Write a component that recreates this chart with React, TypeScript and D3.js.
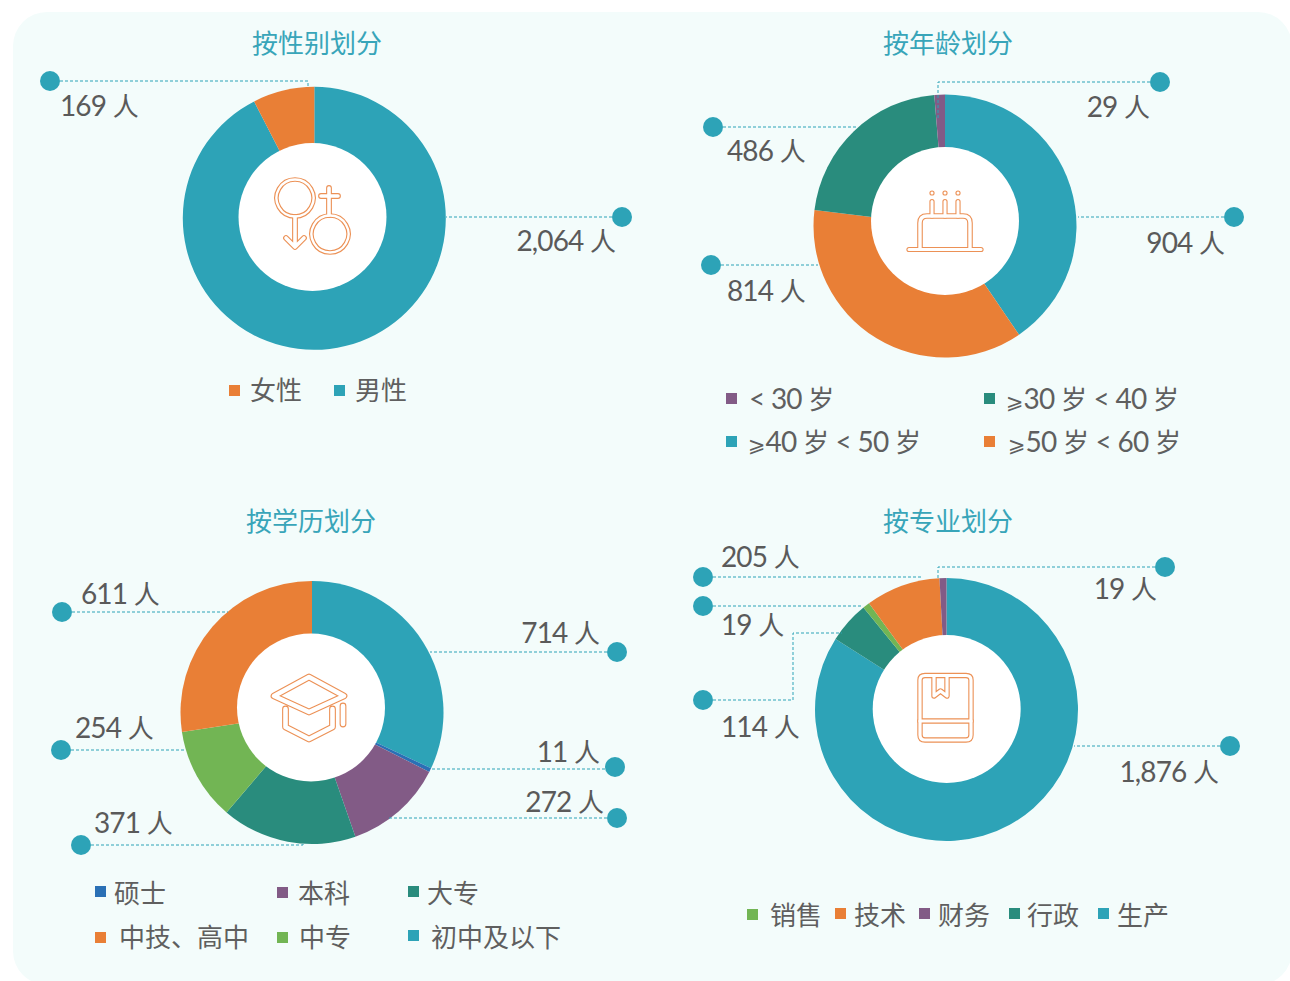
import React from "react";
import * as d3 from "d3";

const TEAL = "#2da3b7", ORANGE = "#e97f36", GREEN = "#298c7d", PURPLE = "#825b86", LIME = "#72b554", BLUE = "#2a70b5";

const genderValues = [2064, 169];
const genderColors = [TEAL, ORANGE];
const ageValues = [904, 814, 486, 29];
const ageColors = [TEAL, ORANGE, GREEN, PURPLE];
const eduValues = [714, 11, 272, 371, 254, 611];
const eduColors = [TEAL, BLUE, PURPLE, GREEN, LIME, ORANGE];
const majorValues = [1876, 114, 19, 205, 19];
const majorColors = [TEAL, GREEN, LIME, ORANGE, PURPLE];

const titles = ["按性别划分", "按年龄划分", "按学历划分", "按专业划分"];
const titlePos = [[317, 52.5], [948, 52.5], [311, 530.5], [948, 530.5]];

const donuts = [
  { values: genderValues, colors: genderColors, cx: 314.3, cy: 218.3, hx: 312.5, hy: 217 },
  { values: ageValues, colors: ageColors, cx: 945, cy: 226, hx: 945, hy: 221 },
  { values: eduValues, colors: eduColors, cx: 312, cy: 712.5, hx: 311, hy: 707.5 },
  { values: majorValues, colors: majorColors, cx: 946.5, cy: 709.5, hx: 946.7, hy: 709 },
];

const leaders = [
  { dot: [50, 81], pts: [[60, 81], [308, 81], [308, 86]], label: "169 人", lx: 60, ly: 116, anchor: "start" },
  { dot: [622, 217], pts: [[612, 217], [446, 217]], label: "2,064 人", lx: 616, ly: 251, anchor: "end" },
  { dot: [1160, 82], pts: [[1150, 82], [938, 82], [938, 120]], label: "29 人", lx: 1150, ly: 117, anchor: "end" },
  { dot: [1234, 217], pts: [[1224, 217], [1078, 217]], label: "904 人", lx: 1225, ly: 253, anchor: "end" },
  { dot: [713, 127], pts: [[723, 127], [858, 127]], label: "486 人", lx: 727, ly: 161, anchor: "start" },
  { dot: [711, 265], pts: [[721, 265], [818, 265]], label: "814 人", lx: 727, ly: 301, anchor: "start" },
  { dot: [62, 612], pts: [[72, 612], [228, 612]], label: "611 人", lx: 81, ly: 604, anchor: "start" },
  { dot: [617, 652], pts: [[607, 652], [430, 652]], label: "714 人", lx: 600, ly: 643, anchor: "end" },
  { dot: [61, 750], pts: [[71, 750], [186, 750]], label: "254 人", lx: 75, ly: 738, anchor: "start" },
  { dot: [615, 767], pts: [[605, 769], [430, 769]], label: "11 人", lx: 600, ly: 762, anchor: "end" },
  { dot: [617, 818], pts: [[607, 818], [388, 818]], label: "272 人", lx: 604, ly: 812, anchor: "end" },
  { dot: [81, 845], pts: [[91, 845], [303, 845], [303, 842]], label: "371 人", lx: 94, ly: 833, anchor: "start" },
  { dot: [703, 577], pts: [[713, 577], [922, 577]], label: "205 人", lx: 721, ly: 567, anchor: "start" },
  { dot: [1165, 567], pts: [[1155, 567], [938, 567], [938, 578]], label: "19 人", lx: 1157, ly: 599, anchor: "end" },
  { dot: [703, 606], pts: [[713, 606], [862, 606]], label: "19 人", lx: 721, ly: 635, anchor: "start" },
  { dot: [703, 700], pts: [[713, 700], [793, 700], [793, 633], [842, 633]], label: "114 人", lx: 721, ly: 737, anchor: "start" },
  { dot: [1230, 746], pts: [[1220, 746], [1074, 746]], label: "1,876 人", lx: 1219, ly: 782, anchor: "end" },
];

const legendItems = [
  { c: ORANGE, t: "女性", sx: 229, sy: 385, tx: 250, ty: 400 },
  { c: TEAL, t: "男性", sx: 334, sy: 385, tx: 355, ty: 400 },
  { c: PURPLE, t: "< 30 岁", sx: 726, sy: 393, tx: 749, ty: 409 },
  { c: GREEN, t: "⩾30 岁 < 40 岁", sx: 984, sy: 393, tx: 1006, ty: 409 },
  { c: TEAL, t: "⩾40 岁 < 50 岁", sx: 726, sy: 436, tx: 748, ty: 452 },
  { c: ORANGE, t: "⩾50 岁 < 60 岁", sx: 984, sy: 436, tx: 1008, ty: 452 },
  { c: BLUE, t: "硕士", sx: 95, sy: 886, tx: 114, ty: 903 },
  { c: PURPLE, t: "本科", sx: 277, sy: 887, tx: 298, ty: 903 },
  { c: GREEN, t: "大专", sx: 408, sy: 886, tx: 427, ty: 903 },
  { c: ORANGE, t: "中技、高中", sx: 95, sy: 932, tx: 119, ty: 947 },
  { c: LIME, t: "中专", sx: 277, sy: 932, tx: 299, ty: 947 },
  { c: TEAL, t: "初中及以下", sx: 408, sy: 930, tx: 431, ty: 947 },
  { c: LIME, t: "销售", sx: 747, sy: 909, tx: 770, ty: 925 },
  { c: ORANGE, t: "技术", sx: 835, sy: 908, tx: 854, ty: 925 },
  { c: PURPLE, t: "财务", sx: 919, sy: 908, tx: 938, ty: 925 },
  { c: GREEN, t: "行政", sx: 1009, sy: 908, tx: 1027, ty: 925 },
  { c: TEAL, t: "生产", sx: 1098, sy: 908, tx: 1117, ty: 925 },
];

// each icon stroke: outline centre path + gap between its two lines
const iconStrokes = [
  { d: "M295 179.5 a18.5 18.5 0 1 0 0.01 0 Z M330 215.5 a18.5 18.5 0 1 0 0.01 0 Z", w: 2.4 },
  { d: "M295 217 V246 M286 238 L295 247 L304 238 M329 215 V188 M321 196 H338", w: 3.6 },
  { d: "M909 249.5 H981", w: 3 },
  { d: "M920 249 V223 Q920 216 927 216 H963 Q970 216 970 223 V249", w: 3.4 },
  { d: "M932 216 V201.5 M945 216 V201.5 M958 216 V201.5", w: 3 },
  { d: "M932 193 h0.01 M945 193 h0.01 M958 193 h0.01", w: 3 },
  { d: "M309 677 L344 696 L309 712 L274 696 Z M285.5 709 V727 L309 739 L332.5 727 V709 M343 706 V724", w: 4.6 },
  { d: "M925 675.5 H966 Q971 675.5 971 680 V735 Q971 740 966 740 H925 Q920 740 920 735 V680 Q920 675.5 925 675.5 Z", w: 3.2 },
  { d: "M920 721 H971", w: 3.2 },
  { d: "M934 677 V696 L940.5 691 L947 696 V677", w: 3.2 },
];

const font = 'Lato, "Noto Sans CJK SC", sans-serif';
const pie = d3.pie<number>().sort(null).value((d) => d);
const arc = d3.arc<d3.PieArcDatum<number>>().innerRadius(0).outerRadius(131.5);
const line = d3.line();

function Runs({ text }: { text: string }) {
  const parts = text.match(/[0-9,<]+|⩾|[^0-9,<⩾]+/g) || [];
  return (
    <>
      {parts.map((p, i) =>
        p === "⩾" ? (
          <tspan key={i} fontSize={21} fontWeight={400} fontFamily="DejaVu Sans">{p}</tspan>
        ) : /^[0-9,<]/.test(p) ? (
          <tspan key={i} fontSize={28} fontWeight={400} letterSpacing={-0.9}>{p}</tspan>
        ) : (
          <tspan key={i} fontSize={26} fontWeight={400}>{p}</tspan>
        )
      )}
    </>
  );
}

export default function App() {
  return (
    <svg width={1290} height={981} style={{ position: "absolute", left: 0, top: 0 }} fontFamily={font}>
      <rect x={0} y={0} width={1290} height={981} fill="#fff" />
      <rect x={13} y={12} width={1279} height={973} rx={34} fill="#f3fcfb" />
      {titles.map((t, i) => (
        <text key={t} x={titlePos[i][0]} y={titlePos[i][1]} textAnchor="middle" fontSize={26} fill="#38a5b9">{t}</text>
      ))}
      {donuts.map((d, i) => (
        <g key={i}>
          <g transform={`translate(${d.cx},${d.cy})`}>
            {pie(d.values).map((s, j) => (
              <path key={j} d={arc(s) || ""} fill={d.colors[j]} />
            ))}
          </g>
          <circle cx={d.hx} cy={d.hy} r={74} fill="#fff" />
        </g>
      ))}
      <g fill="none" strokeLinejoin="round" strokeLinecap="round">
        {iconStrokes.map((s, i) => (
          <path key={i} d={s.d} stroke="#ec9156" strokeWidth={s.w + 2.2} />
        ))}
        {iconStrokes.map((s, i) => (
          <path key={i} d={s.d} stroke="#fff" strokeWidth={s.w} />
        ))}
      </g>
      {leaders.map((l, i) => (
        <g key={i}>
          <path d={line(l.pts as [number, number][]) || ""} fill="none" stroke={TEAL} strokeWidth={1} strokeDasharray="3 2" />
          <circle cx={l.dot[0]} cy={l.dot[1]} r={10} fill={TEAL} />
          <text x={l.lx} y={l.ly} textAnchor={l.anchor as any} fill="#5a5a5a"><Runs text={l.label} /></text>
        </g>
      ))}
      {legendItems.map((l, i) => (
        <g key={i}>
          <rect x={l.sx} y={l.sy} width={11} height={11} fill={l.c} />
          <text x={l.tx} y={l.ty} fill="#5f5f5f"><Runs text={l.t} /></text>
        </g>
      ))}
    </svg>
  );
}
